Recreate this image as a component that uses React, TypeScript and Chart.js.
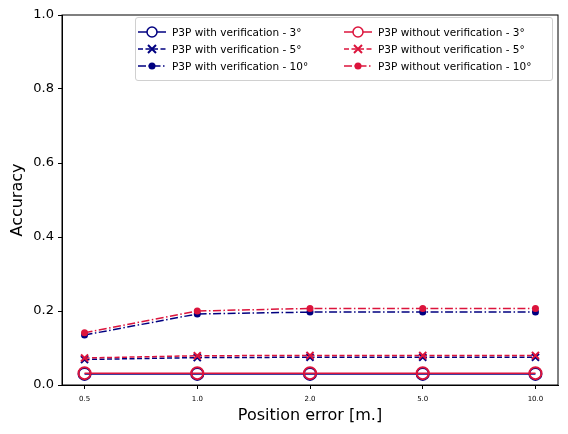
import React, { useEffect, useRef } from "react";
import { Chart, registerables, Plugin } from "chart.js";

Chart.register(...registerables);

const positionErrors = ["0.5", "1.0", "2.0", "5.0", "10.0"];
const withVer3 = [0.03, 0.03, 0.03, 0.03, 0.03];
const withVer5 = [0.069, 0.074, 0.075, 0.075, 0.075];
const withVer10 = [0.135, 0.192, 0.197, 0.197, 0.197];
const withoutVer3 = [0.032, 0.032, 0.032, 0.032, 0.032];
const withoutVer5 = [0.073, 0.079, 0.08, 0.08, 0.08];
const withoutVer10 = [0.141, 0.2, 0.207, 0.207, 0.207];
const yTicks = [0, 0.2, 0.4, 0.6, 0.8, 1.0];

const NAVY = "#000080";
const RED = "#dc143c";

type Style = { color: string; dash: number[]; marker: "o" | "x" | "dot" };

const seriesList: { label: string; data: number[]; style: Style }[] = [
  { label: "P3P with verification - 3°", data: withVer3, style: { color: NAVY, dash: [], marker: "o" } },
  { label: "P3P with verification - 5°", data: withVer5, style: { color: NAVY, dash: [5, 2.5], marker: "x" } },
  { label: "P3P with verification - 10°", data: withVer10, style: { color: NAVY, dash: [8, 2.5, 1.5, 2.5], marker: "dot" } },
  { label: "P3P without verification - 3°", data: withoutVer3, style: { color: RED, dash: [], marker: "o" } },
  { label: "P3P without verification - 5°", data: withoutVer5, style: { color: RED, dash: [5, 2.5], marker: "x" } },
  { label: "P3P without verification - 10°", data: withoutVer10, style: { color: RED, dash: [8, 2.5, 1.5, 2.5], marker: "dot" } },
];

const frame: Plugin = {
  id: "frame",
  afterDraw(chart) {
    const { ctx, chartArea: a } = chart;
    ctx.save();
    ctx.strokeStyle = "black";
    ctx.lineWidth = 1;
    ctx.strokeRect(a.left, a.top, a.right - a.left, a.bottom - a.top);
    ctx.restore();
  },
};

function LegendMarker({ style }: { style: Style }) {
  return (
    <svg width={28} height={12} style={{ marginRight: 6 }}>
      <line x1={0} y1={6} x2={28} y2={6} stroke={style.color} strokeWidth={1.5}
        strokeDasharray={style.dash.length ? style.dash.join(",") : undefined} />
      {style.marker === "o" && <circle cx={14} cy={6} r={5} fill="white" stroke={style.color} strokeWidth={1.5} />}
      {style.marker === "dot" && <circle cx={14} cy={6} r={3.5} fill={style.color} />}
      {style.marker === "x" && (
        <path d="M10 2 L18 10 M18 2 L10 10" stroke={style.color} strokeWidth={2} />
      )}
    </svg>
  );
}

export default function App() {
  const canvasRef = useRef<HTMLCanvasElement>(null);

  useEffect(() => {
    document.body.style.margin = "0";
    const ctx = canvasRef.current?.getContext("2d");
    if (!ctx) return;
    const chart = new Chart(ctx, {
      type: "line",
      data: {
        datasets: seriesList.map((s) => ({
          label: s.label,
          data: s.data.map((v, i) => ({ x: i, y: v })),
          order: s.style.color === RED ? 0 : 1,
          borderColor: s.style.color,
          borderWidth: 1.5,
          borderDash: s.style.dash,
          pointStyle: s.style.marker === "x" ? "crossRot" : "circle",
          pointRadius: s.style.marker === "o" ? 6 : s.style.marker === "x" ? 5 : 3.5,
          pointBorderWidth: s.style.marker === "dot" ? 0 : 2,
          pointBackgroundColor: s.style.marker === "o" ? "rgba(0,0,0,0)" : s.style.color,
          pointBorderColor: s.style.color,
          fill: false,
        })),
      },
      options: {
        animation: false,
        responsive: false,
        layout: { padding: { top: 15, right: 10, left: 0, bottom: 0 } },
        plugins: { legend: { display: false }, tooltip: { enabled: false } },
        scales: {
          x: {
            type: "linear",
            min: -0.2,
            max: 4.2,
            afterBuildTicks: (axis) => {
              axis.ticks = positionErrors.map((_, i) => ({ value: i }));
            },
            afterFit: (axis) => {
              axis.height = 49;
            },
            ticks: {
              color: "black",
              font: { size: 7, family: "DejaVu Sans" },
              callback: (v) => positionErrors[Number(v)] ?? "",
              maxRotation: 0,
              padding: 6,
            },
            grid: { drawOnChartArea: false, tickColor: "black", tickLength: 4 },
            border: { color: "black" },
            title: {
              display: true,
              text: "Position error [m.]",
              color: "black",
              font: { size: 16, family: "DejaVu Sans" },
              padding: { top: 0, bottom: 9 },
            },
          },
          y: {
            min: 0,
            max: 1,
            afterBuildTicks: (axis) => {
              axis.ticks = yTicks.map((v) => ({ value: v }));
            },
            afterFit: (axis) => {
              axis.width = 62;
            },
            ticks: {
              color: "black",
              font: { size: 13, family: "DejaVu Sans" },
              callback: (v) => Number(v).toFixed(1),
              padding: 4,
            },
            grid: { drawOnChartArea: false, tickColor: "black", tickLength: 4 },
            border: { color: "black" },
            title: {
              display: true,
              text: "Accuracy",
              color: "black",
              font: { size: 16, family: "DejaVu Sans" },
              padding: { top: 8, bottom: 0 },
            },
          },
        },
      },
      plugins: [frame],
    });
    return () => chart.destroy();
  }, []);

  return (
    <div style={{ position: "relative", width: 568, height: 434 }}>
      <canvas ref={canvasRef} width={568} height={434} />
      <div
        style={{
          position: "absolute",
          left: 135,
          top: 17,
          width: 418,
          height: 64,
          boxSizing: "border-box",
          border: "1px solid #d0d0d0",
          borderRadius: 3,
          background: "rgba(255,255,255,0.8)",
          display: "grid",
          gridTemplateColumns: "206px 206px",
          gridAutoFlow: "column",
          gridTemplateRows: "repeat(3, 17px)",
          padding: "5px 0 0 2px",
          fontFamily: "DejaVu Sans",
          fontSize: 10.5,
          color: "black",
        }}
      >
        {seriesList.map((s) => (
          <div key={s.label} style={{ display: "flex", alignItems: "center", whiteSpace: "nowrap" }}>
            <LegendMarker style={s.style} />
            <span>{s.label}</span>
          </div>
        ))}
      </div>
    </div>
  );
}
